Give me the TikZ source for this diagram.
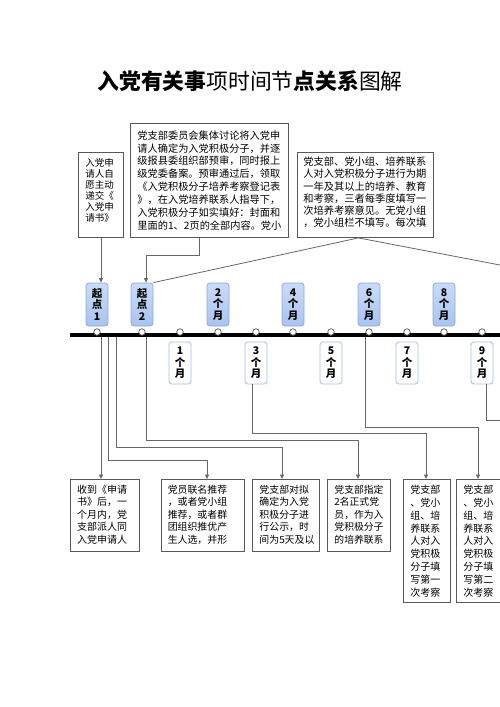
\documentclass[tikz,border=0pt]{standalone}
\usepackage{fontspec}
\setmainfont{Noto Sans CJK SC}
\usetikzlibrary{arrows.meta,calc}
\definecolor{lineg}{HTML}{676767}
\definecolor{boxg}{HTML}{595959}
\definecolor{mkfill}{HTML}{A9C3EF}
\definecolor{mkfillt}{HTML}{CADBF7}
\definecolor{mkdraw}{HTML}{8AABE0}
\definecolor{mkdrawb}{HTML}{A3BEE8}
\newcommand\fs[2]{\fontsize{#1pt}{#2pt}\selectfont}
\begin{document}
\begin{tikzpicture}[x=1pt,y=-1pt,
  box/.style={draw=boxg, line width=0.9pt, fill=white, anchor=north west},
  mtop/.style={draw=mkdraw, line width=0.8pt, rounded corners=3pt, top color=mkfillt, bottom color=mkfill,
     minimum width=22pt, minimum height=43pt, inner sep=0pt, align=center, font=\bfseries\fs{10.5}{11.2}},
  mbot/.style={draw=mkdrawb, line width=0.8pt, rounded corners=3pt, fill=white,
     minimum width=22pt, minimum height=42pt, inner sep=0pt, align=center, font=\bfseries\fs{10.5}{11.6}},
  circ/.style={circle, draw=boxg, fill=white, line width=0.7pt, minimum size=6.5pt, inner sep=0pt},
  conn/.style={draw=lineg, line width=0.8pt},
  arr/.style={conn, -{Triangle[length=4.5pt,width=4pt]}}
]
\useasboundingbox (0,0) rectangle (500,707);
\clip (0,0) rectangle (500,707);
\fill[white] (0,0) rectangle (500,707);

% title
\node (title) at (250,81) {\fs{21.8}{26}{\bfseries 入党有关事}项时间节{\bfseries 点关系}图解};

% top boxes
\node[box, inner xsep=7pt, inner ysep=6.5pt] (tl) at (78,152)
  {\parbox[c][72pt][t]{31pt}{\fs{9.5}{11}入党申\\请人自\\愿主动\\递交《\\入党申\\请书》}};
\node[box, inner xsep=7pt, inner ysep=7pt] (tm) at (130,123)
  {\parbox[c][100pt][t]{144pt}{\fs{10.2}{12.95}党支部委员会集体讨论将入党申\\请人确定为入党积极分子，并逐\\级报县委组织部预审，同时报上\\级党委备案。预审通过后，领取\\《入党积极分子培养考察登记表\\》，在入党培养联系人指导下，\\入党积极分子如实填好：封面和\\里面的1、2页的全部内容。党小}};
\node[box, inner xsep=6pt, inner ysep=4.5pt] (tr) at (297,152)
  {\parbox[c][76pt][t]{124pt}{\fs{10.25}{12.2}党支部、党小组、培养联系\\人对入党积极分子进行为期\\一年及其以上的培养、教育\\和考察，三者每季度填写一\\次培养考察意见。无党小组\\，党小组栏不填写。每次填}};

% markers above the line
\node[mtop] (s1) at (97,304.5) {起\\点\\1};
\node[mtop] (s2) at (142,304.5) {起\\点\\2};
\node[mtop] (m2) at (218,304.5) {2\\个\\月};
\node[mtop] (m4) at (293,304.5) {4\\个\\月};
\node[mtop] (m6) at (369,304.5) {6\\个\\月};
\node[mtop] (m8) at (444,304.5) {8\\个\\月};

% markers below the line
\node[mbot] (m1) at (180,363) {1\\个\\月};
\node[mbot] (m3) at (256,363) {3\\个\\月};
\node[mbot] (m5) at (331,363) {5\\个\\月};
\node[mbot] (m7) at (407,363) {7\\个\\月};
\node[mbot] (m9) at (482,363) {9\\个\\月};

% bottom boxes
\node[box, inner xsep=6.7pt, inner ysep=5.5pt] (b1) at (70,479)
  {\parbox[c][61pt][t]{55.6pt}{\fs{10}{12.5}收到《申请\\书》后，一\\个月内，党\\支部派人同\\入党申请人}};
\node[box, inner xsep=6.3pt, inner ysep=5.5pt] (b2) at (161,479)
  {\parbox[c][61pt][t]{70.4pt}{\fs{9.9}{12.5}党员联名推荐\\，或者党小组\\推荐，或者群\\团组织推优产\\生人选，并形}};
\node[box, inner xsep=7pt, inner ysep=5.5pt] (b3) at (252,479)
  {\parbox[c][61pt][t]{53pt}{\fs{9.9}{12.5}党支部对拟\\确定为入党\\积极分子进\\行公示，时\\间为5天及以}};
\node[box, inner xsep=7pt, inner ysep=5.5pt] (b4) at (327,479)
  {\parbox[c][61pt][t]{49pt}{\fs{9.8}{12.5}党支部指定\\2名正式党\\员，作为入\\党积极分子\\的培养联系}};
\node[box, inner xsep=7pt, inner ysep=5.5pt] (b5) at (403,479)
  {\parbox[c][112pt][t]{33pt}{\fs{10}{12.9}党支部\\、党小\\组、培\\养联系\\人对入\\党积极\\分子填\\写第一\\次考察}};
\node[box, inner xsep=7pt, inner ysep=5.5pt] (b6) at (456,479)
  {\parbox[c][112pt][t]{33pt}{\fs{10}{12.9}党支部\\、党小\\组、培\\养联系\\人对入\\党积极\\分子填\\写第二\\次考察}};

% connectors from top boxes
\draw[arr] (tl.south) -- (tl.south |- s1.north);
\coordinate (k2) at (146,255);
\draw[arr] ($(tm.south)+(-10,0)$) |- (k2) -- (k2 |- s2.north);
\coordinate (tro) at ($(tr.south)+(-7,0)$);
\coordinate (farR) at (594,283);
\draw[conn] (s2.north east) -- (tro) -- (farR);

% connectors below the line
\coordinate (pA) at (101,335);
\coordinate (pB) at (108,335);
\coordinate (pC) at (116,335);
\coordinate (pD) at (146,335);
\coordinate (pF) at (365,335);
\coordinate (eB) at (207,460);
\coordinate (eC) at (282,447);
\coordinate (eD) at (358,440);
\coordinate (eE) at (426,433);
\coordinate (eF) at (478,427);
\coordinate (eG) at (520,420);
\draw[arr] (pA) -- (pA |- b1.north);
\draw[arr] (pB) |- (eB) -- (eB |- b2.north);
\draw[arr] (pC) |- (eC) -- (eC |- b3.north);
\draw[arr] (pD) |- (eD) -- (eD |- b4.north);
\draw[arr] ($(m3.south)+(-4,0)$) |- (eE) -- (eE |- b5.north);
\draw[arr] (pF) |- (eF) -- (eF |- b6.north);
\draw[conn] ($(m9.south)+(4,0)$) |- (eG);

% timeline
\coordinate (t0) at (70,335);
\coordinate (t1) at (505,335);
\draw[line width=3.5pt] (t0) -- (t1);
\foreach \x [count=\i] in {97,142,180,218,256,293,331,369,407,444,482}
  \node[circ] (c\i) at (\x,332) {};
\end{tikzpicture}
\end{document}
